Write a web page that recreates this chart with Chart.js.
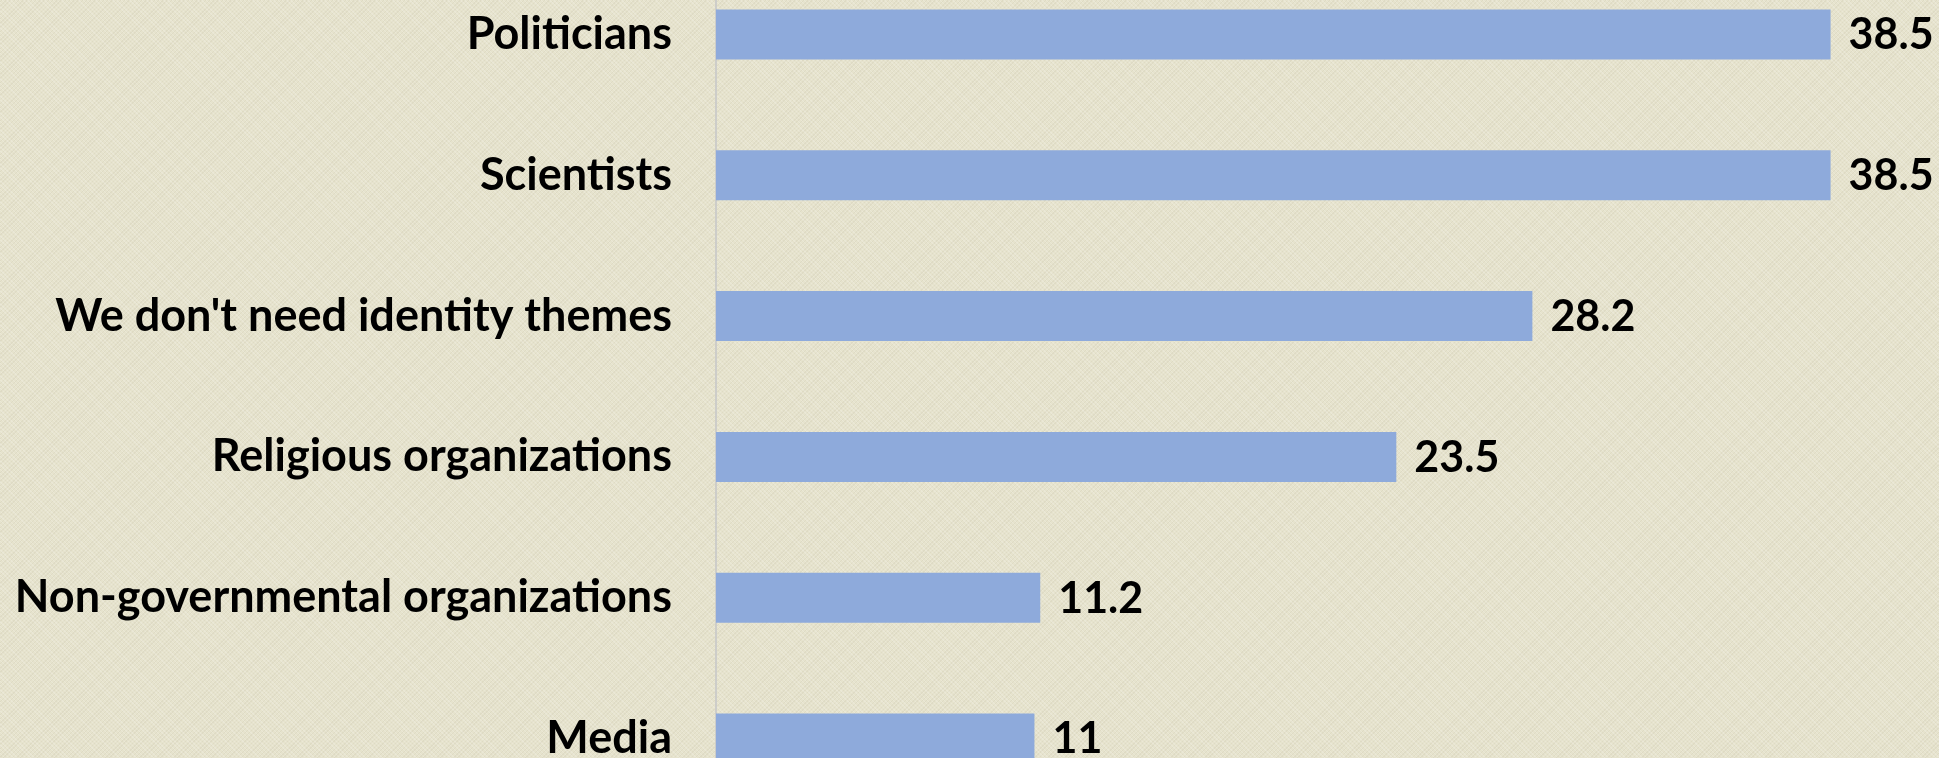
<!DOCTYPE html>
<html>
<head>
<meta charset="utf-8">
<script src="https://cdn.jsdelivr.net/npm/chart.js@4"></script>
<style>
  html, body {
    margin: 0;
    padding: 0;
    width: 1939px;
    height: 758px;
    overflow: hidden;
    background-color: #e6e3cd;
    background-image:
      repeating-linear-gradient(45deg, rgba(255,255,255,0.18) 0 1px, transparent 1px 3px),
      repeating-linear-gradient(-45deg, rgba(120,110,80,0.07) 0 1px, transparent 1px 3px);
  }
  #chart {
    position: absolute;
    left: 0;
    top: -36px;
    width: 1939px;
    height: 845px;
  }
</style>
</head>
<body>
<canvas id="chart" width="1939" height="845"></canvas>
<script>
const categories = [
  'Politicians',
  'Scientists',
  "We don't need identity themes",
  'Religious organizations',
  'Non-governmental organizations',
  'Media'
];
const values = [38.5, 38.5, 28.2, 23.5, 11.2, 11];
const valueLabels = ['38.5', '38.5', '28.2', '23.5', '11.2', '11'];

const FONT = 'Lato, "Open Sans", sans-serif';

// draws the number to the right of each bar
const valueLabelPlugin = {
  id: 'valueLabels',
  afterDatasetsDraw(chart) {
    const ctx = chart.ctx;
    const meta = chart.getDatasetMeta(0);
    ctx.save();
    ctx.font = 'bold 43px ' + FONT;
    ctx.fillStyle = '#000000';
    ctx.textAlign = 'left';
    ctx.textBaseline = 'middle';
    meta.data.forEach((bar, i) => {
      ctx.fillText(valueLabels[i], bar.x + 18, bar.y + 1);
    });
    ctx.restore();
  }
};

new Chart(document.getElementById('chart').getContext('2d'), {
  type: 'bar',
  data: {
    labels: categories,
    datasets: [{
      data: values,
      backgroundColor: '#8eaadb',
      borderWidth: 0,
      barPercentage: 0.355,
      categoryPercentage: 1
    }]
  },
  options: {
    indexAxis: 'y',
    responsive: false,
    animation: false,
    layout: { padding: { left: 0, right: 65, top: 0, bottom: 0 } },
    plugins: {
      legend: { display: false },
      tooltip: { enabled: false }
    },
    scales: {
      x: {
        display: false,
        min: 0,
        max: 40
      },
      y: {
        grid: { display: false, drawTicks: false },
        border: { display: true, color: '#cdcdc9', width: 2 },
        ticks: {
          color: '#000000',
          padding: 44,
          font: { family: FONT, size: 45, weight: 'bold' }
        },
        afterFit(scale) {
          // fixed label column, and no extra room above/below the labels
          scale.width = 716;
          scale.paddingTop = 0;
          scale.paddingBottom = 0;
        }
      }
    }
  },
  plugins: [valueLabelPlugin]
});
</script>
</body>
</html>
